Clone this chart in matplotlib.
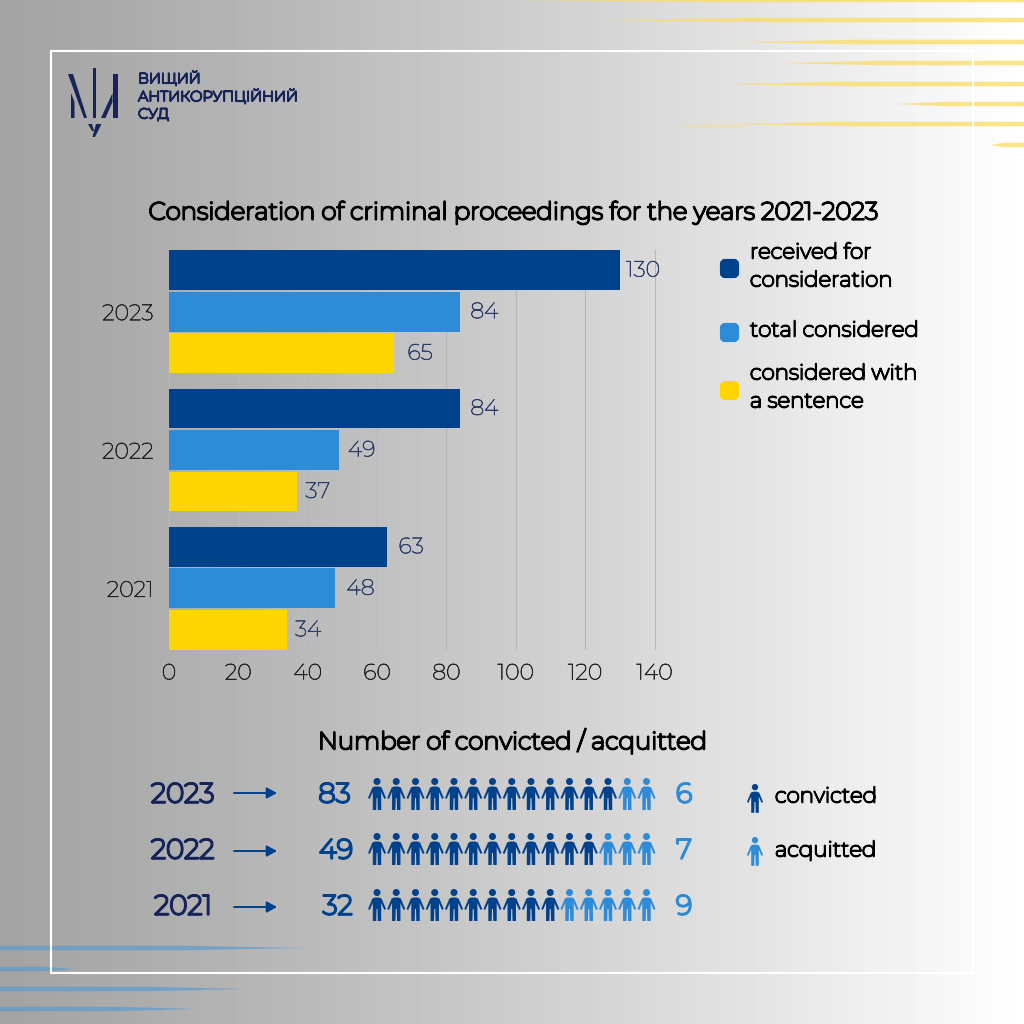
import numpy as np
from matplotlib import pyplot as plt
from matplotlib import patheffects as pe
from matplotlib.patches import Polygon, Circle, FancyBboxPatch, FancyArrowPatch

plt.rcParams['font.family'] = ['Montserrat', 'Inter', 'DejaVu Sans']

# Bar chart data
years = ['2021', '2022', '2023']
received = [63, 84, 130]
considered = [48, 49, 84]
sentence = [34, 37, 65]

# People data (rows top to bottom)
people_years = ['2023', '2022', '2021']
convicted = [83, 49, 32]
acquitted = [6, 7, 9]
dark_icons = [13, 12, 10]
light_icons = [2, 3, 5]

NAVY = '#00418c'
BLUE = '#2e8bd8'
YELLOW = '#ffd500'
INK = '#16245a'
LABEL = '#2c3a68'

fig = plt.figure(figsize=(10.24, 10.24), dpi=100)

# whole figure in pixels, y going down
bg = fig.add_axes([0, 0, 1, 1])
bg.set_xlim(0, 1024)
bg.set_ylim(1024, 0)
bg.axis('off')

grad = np.linspace(0, 1, 512)
grad = np.clip(0.64 + 0.36 * grad ** 1.15, 0, 1)
bg.imshow(np.tile(grad, (8, 1)), cmap='gray', vmin=0, vmax=1, extent=[0, 1024, 1024, 0], aspect='auto')


def heavy(t, lw):
    # the installed font is thin, a stroke in the same colour thickens it
    t.set_path_effects([pe.withStroke(linewidth=lw, foreground=t.get_color())])
    return t


def streak(y, x0, x1, color, thick, alpha):
    # stripe with a long taper, x1 is the sharp end
    xm = x1 + (x0 - x1) * 0.4
    pts = [(x0, y - thick / 2), (xm, y - thick / 2), (x1, y), (xm, y + thick / 2), (x0, y + thick / 2)]
    bg.add_patch(Polygon(pts, fc=color, ec='none', alpha=alpha))


for y, x in [(0, 520), (20, 600), (42, 740), (63, 780), (84, 725), (104, 895), (124, 730), (145, 990)]:
    streak(y, 1024, x, '#fbdc62', 4.5, 0.75)
streak(126, 745, 670, '#fbdc62', 3, 0.3)
for y, x in [(948, 305), (969, 75), (989, 245), (1009, 195)]:
    streak(y, 0, x, '#5b9bd0', 4.5, 0.7)

# white frame
bg.add_patch(plt.Rectangle((51, 50.5), 922, 922, fc='none', ec='white', lw=1.5))

# logo
logo = [
    [(68, 74), (73, 74), (87, 118), (84, 118)],
    [(71, 93), (74.5, 102), (74.5, 118), (71, 118)],
    [(92.5, 68), (96, 68), (96, 118), (92.5, 118)],
    [(113, 74), (117.5, 74), (117.5, 118), (113, 118)],
    [(112.5, 93), (112.5, 102), (105.5, 118), (101, 118)],
    [(88, 124), (92, 124), (94, 131), (92, 131)],
    [(96, 124), (101.5, 124), (95, 137), (92.5, 137)],
]
for pts in logo:
    bg.add_patch(Polygon(pts, fc=INK, ec='none'))
for yy, t in [(79.5, 'ВИЩИЙ'), (97, 'АНТИКОРУПЦІЙНИЙ'), (115, 'СУД')]:
    heavy(bg.text(138, yy, t, color=INK, fontsize=10.4, va='center'), 1.2)

heavy(bg.text(512, 213, 'Consideration of criminal proceedings for the years 2021-2023', color='black',
              fontsize=17.6, ha='center', va='center'), 1.5)
heavy(bg.text(512, 741, 'Number of convicted / acquitted', color='black',
              fontsize=17.6, ha='center', va='center'), 1.5)

# bar chart
ax = fig.add_axes([169 / 1024, 1 - 650 / 1024, (700 - 169) / 1024, 400 / 1024])
ax.patch.set_alpha(0)
y = np.arange(len(years))
h = 0.287
ax.barh(y + 0.3, received, h, color=NAVY, zorder=3)
ax.barh(y, considered, h, color=BLUE, zorder=3)
ax.barh(y - 0.3, sentence, h, color=YELLOW, zorder=3)
ax.set_xlim(0, 531 / 3.468)
ax.set_ylim(-0.446, 2.446)
ax.set_xticks(range(0, 141, 20))
ax.set_yticks(y)
ax.set_yticklabels(years)
ax.tick_params(axis='x', length=0, labelsize=16, labelcolor='#222222', pad=9)
ax.tick_params(axis='y', length=0, labelsize=16, labelcolor='#222222', pad=11)
for t in ax.get_xticklabels() + ax.get_yticklabels():
    heavy(t, 0.45)
ax.grid(axis='x', color='#b8b8b8', lw=0.8, zorder=0)
for s in ax.spines.values():
    s.set_visible(False)

# label gaps in px, they differ from bar to bar in the picture
gaps = [([11, 10, 6], received, 0.3), ([11, 9, 10], considered, 0), ([8, 8, 13], sentence, -0.3)]
for gap, vals, off in gaps:
    for i, v in enumerate(vals):
        heavy(ax.annotate(str(v), (v, i + off), xytext=(gap[i] * 0.72, 0), textcoords='offset points',
                          fontsize=16, color=LABEL, va='center', zorder=4), 0.45)

# legend for the bars
for yy, c in [(268, NAVY), (332, BLUE), (390, YELLOW)]:
    bg.add_patch(FancyBboxPatch((722, yy - 7), 15, 15, boxstyle='round,pad=0,rounding_size=3', fc=c, ec=c, lw=3))
for yy, t in [(253, 'received for'), (281, 'consideration'), (331, 'total considered'),
              (374, 'considered with'), (402, 'a sentence')]:
    heavy(bg.text(750, yy, t, color='black', fontsize=15.4, va='center'), 1.2)


def person(cx, top, color, k=1.0):
    # little figure, k scales it
    body = [(-2, 8.5), (2, 8.5), (4.6, 9.5), (9, 20), (7.3, 21), (4.2, 14), (4.2, 32), (0.8, 32), (0.5, 20), (-0.5, 20),
            (-0.8, 32), (-4.2, 32), (-4.2, 14), (-7.3, 21), (-9, 20), (-4.6, 9.5)]
    bg.add_patch(Polygon([(cx + a * k, top + b * k) for a, b in body], fc=color, ec='none', zorder=2))
    bg.add_patch(Circle((cx, top + 3.5 * k), 3.5 * k, fc=color, ec='none', zorder=2))


# people rows
row_y = [794, 850, 906]
row_top = [778, 833, 889]
arrow_y = [793, 851, 907]
year_x = [182.5, 182.5, 183]
num_x = [334.5, 336, 337.5]
for i in range(3):
    heavy(bg.text(year_x[i], row_y[i] + 1, people_years[i], color=INK, fontsize=19.8, ha='center', va='center'), 1.7)
    bg.add_patch(FancyArrowPatch((234, arrow_y[i]), (277, arrow_y[i]), arrowstyle='-|>,head_length=2,head_width=1.1',
                                 mutation_scale=3, lw=1.4, color=NAVY, shrinkA=0, shrinkB=0))
    heavy(bg.text(num_x[i], row_y[i] + 1, str(convicted[i]), color=NAVY, fontsize=19.8, ha='center', va='center'), 1.7)
    heavy(bg.text(684, row_y[i] + 1, str(acquitted[i]), color=BLUE, fontsize=19.8, ha='center', va='center'), 1.7)
    for n in range(dark_icons[i] + light_icons[i]):
        c = NAVY if n < dark_icons[i] else BLUE
        person(377 + n * 19.25, row_top[i], c)

# people legend
person(755, 784, NAVY, 0.9)
person(755, 837, BLUE, 0.9)
heavy(bg.text(775, 797, 'convicted', color='black', fontsize=15.4, va='center'), 1.2)
heavy(bg.text(775, 851, 'acquitted', color='black', fontsize=15.4, va='center'), 1.2)

fig.savefig('out.png', dpi=100)
